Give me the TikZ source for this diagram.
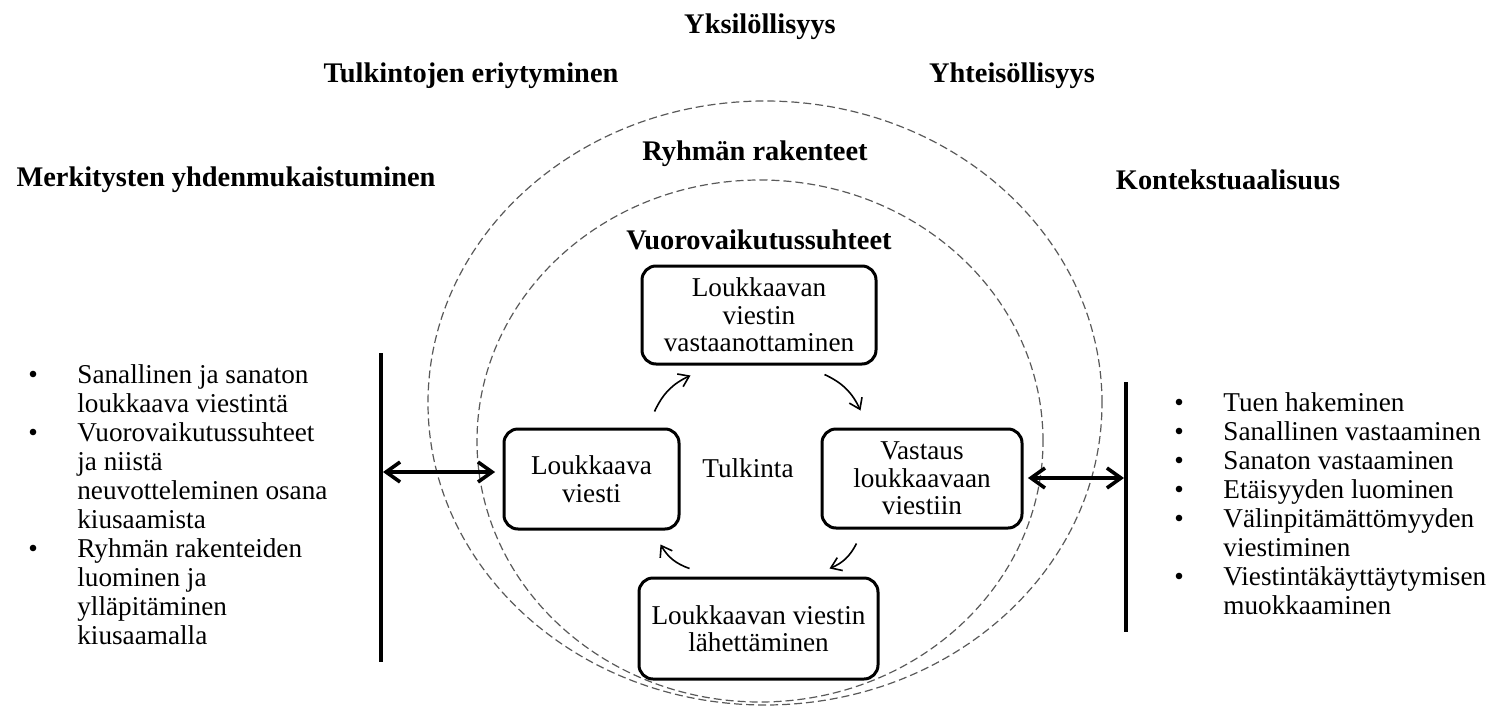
\documentclass[tikz,border=0pt]{standalone}
\usepackage{fontspec}
\setmainfont{Liberation Serif}
\usepackage{tikz}
\usetikzlibrary{arrows.meta}

\begin{document}
\begin{tikzpicture}[x=0.5pt, y=-0.5pt,
   TTL/.style = {font=\fontsize{14.2}{16}\selectfont\bfseries, inner sep=0pt},
   TXT/.style = {font=\fontsize{13.6}{13.8}\selectfont, inner sep=0pt},
   BOX/.style = {draw, fill=white, line width=1.5pt, rounded corners=7pt,
                 align=center, inner sep=2pt,
                 font=\fontsize{13.6}{13.8}\selectfont},
   LST/.style = {font=\fontsize{13.6}{14.5}\selectfont, inner sep=0pt,
                 anchor=base west},
   DSH/.style = {draw=black!65, line width=0.6pt, dash pattern=on 4pt off 2pt},
   VRT/.style = {line width=2pt},
   ARW/.style = {line width=1.8pt,
                 {Straight Barb[length=7pt,width=10pt]}-{Straight Barb[length=7pt,width=10pt]}},
   CYC/.style = {line width=0.8pt, -{Straight Barb[length=5pt,width=7pt]},
                 bend left=20}
                    ]
\useasboundingbox (0,0) rectangle (1495,707);
% dashed circles
\draw[DSH] (765,403) ellipse [x radius=168.5pt, y radius=151pt];
\draw[DSH] (760,441) ellipse [x radius=141.5pt, y radius=130.5pt];
% titles
\node[TTL] (yksi)  at (760,27)  {Yksilöllisyys};
\node[TTL] (tulk)  at (471,76)  {Tulkintojen eriytyminen};
\node[TTL] (yhte)  at (1012,76) {Yhteisöllisyys};
\node[TTL] (ryhma) at (755,154) {Ryhmän rakenteet};
\node[TTL] (merk)  at (226,180) {Merkitysten yhdenmukaistuminen};
\node[TTL] (kont)  at (1228,180) {Kontekstuaalisuus};
\node[TTL] (vuoro) at (759,240) {Vuorovaikutussuhteet};
% cycle boxes
\node[BOX, minimum width=117pt, minimum height=49pt] (tbox) at (759,315)
     {Loukkaavan\\ viestin\\ vastaanottaminen};
\node[BOX, minimum width=87.5pt, minimum height=50pt] (lbox) at (591.5,479)
     {Loukkaava\\ viesti};
\node[BOX, minimum width=100pt, minimum height=49.5pt] (rbox) at (922,478.5)
     {Vastaus\\ loukkaavaan\\ viestiin};
\node[BOX, minimum width=119.5pt, minimum height=50.5pt] (bbox) at (758.5,628.5)
     {Loukkaavan viestin\\ lähettäminen};
\node[TXT] (tulkinta) at (748,468) {Tulkinta};
% cycle arrows
\draw[CYC] ([shift={(-26,-16)}]lbox.north east) to ([shift={(50,10)}]tbox.south west);
\draw[CYC] ([shift={(-53,9)}]tbox.south east)   to ([shift={(40,-17)}]rbox.north west);
\draw[CYC] ([shift={(36,14)}]rbox.south west)   to ([shift={(-50,-8)}]bbox.north east);
\draw[CYC] ([shift={(52,-8)}]bbox.north west)   to ([shift={(-20,14)}]lbox.south east);
% side bars and arrows
\coordinate (lt) at (381,353);
\coordinate (lb) at (381,662);
\coordinate (lm) at (381,472);
\coordinate (rt) at (1126,382);
\coordinate (rb) at (1126,632);
\coordinate (rm) at (1126,478);
\draw[VRT] (lt) -- (lb);
\draw[VRT] (rt) -- (rb);
\draw[ARW, shorten <=1pt, shorten >=3.7pt] (lm) -- (lm -| lbox.west);
\draw[ARW, shorten <=2.2pt, shorten >=1pt] (rbox.east |- rm) -- (rm);
% left list
\node[LST] (llist) at (28,383) {\begin{tabular}[t]{@{}p{24.5pt}@{}l@{}}
\textbullet & Sanallinen ja sanaton\\
            & loukkaava viestintä\\
\textbullet & Vuorovaikutussuhteet\\
            & ja niistä\\
            & neuvotteleminen osana\\
            & kiusaamista\\
\textbullet & Ryhmän rakenteiden\\
            & luominen ja\\
            & ylläpitäminen\\
            & kiusaamalla
\end{tabular}};
% right list
\node[LST] (rlist) at (1174,411) {\begin{tabular}[t]{@{}p{24.5pt}@{}l@{}}
\textbullet & Tuen hakeminen\\
\textbullet & Sanallinen vastaaminen\\
\textbullet & Sanaton vastaaminen\\
\textbullet & Etäisyyden luominen\\
\textbullet & Välinpitämättömyyden\\
            & viestiminen\\
\textbullet & Viestintäkäyttäytymisen\\
            & muokkaaminen
\end{tabular}};
\end{tikzpicture}
\end{document}
